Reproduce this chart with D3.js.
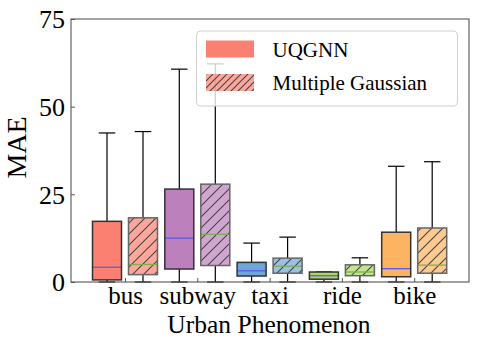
<!DOCTYPE html>
<html><head><meta charset="utf-8"><script src="https://cdn.jsdelivr.net/npm/d3@7"></script></head>
<body style="margin:0">
<svg id="chart" width="478" height="348" style="display:block; font-family:'Liberation Serif'"></svg>
<script>
// ---- data ----
const categories = ["bus", "subway", "taxi", "ride", "bike"];
const seriesNames = ["UQGNN", "Multiple Gaussian"];
const yTicks = [0, 25, 50, 75];

const uqgnnLow  = [0, 0, 0, 0, 0];
const uqgnnQ1   = [0.6, 3.7, 1.7, 0.8, 1.5];
const uqgnnMed  = [4.2, 12.5, 3.2, 1.8, 3.8];
const uqgnnQ3   = [17.3, 26.5, 5.6, 2.85, 14.2];
const uqgnnHigh = [42.5, 60.7, 11.1, 2.85, 33.0];

const mgLow  = [0, 0, 0, 0, 0];
const mgQ1   = [2.1, 4.7, 2.5, 1.8, 2.5];
const mgMed  = [5.0, 13.6, 4.5, 2.85, 4.8];
const mgQ3   = [18.3, 27.9, 6.8, 4.9, 15.4];
const mgHigh = [42.9, 62.2, 12.8, 6.9, 34.3];

const colors = ["#fb8072", "#bc80bd", "#6fa6d8", "#aad862", "#fdb462"];

// ---- layout ----
const svg = d3.select("#chart");
const L = 71, R = 469, T = 19, B = 282;
const y = d3.scaleLinear().domain([0, 75]).range([B, T]);
const x = d3.scaleLinear().domain([0, 4]).range([125, 414.2]);
const off = 18, bw = 29;

function txt(sel) {
  return sel.style("font-family", "'Liberation Serif'").attr("font-family", "Liberation Serif");
}

const defs = svg.append("defs");
function hatch(id, size, color) {
  const p = defs.append("pattern").attr("id", id)
    .attr("patternUnits", "userSpaceOnUse").attr("width", size).attr("height", size);
  const g = p.append("g").attr("stroke", color).attr("stroke-width", 1.1);
  g.append("line").attr("x1", 0).attr("y1", size).attr("x2", size).attr("y2", 0);
  g.append("line").attr("x1", -1).attr("y1", 1).attr("x2", 1).attr("y2", -1);
  g.append("line").attr("x1", size - 1).attr("y1", size + 1).attr("x2", size + 1).attr("y2", size - 1);
}
hatch("h-box", 11, "#444");
hatch("h-leg", 7, "#444");

const series = [
  { name: seriesNames[0], low: uqgnnLow, q1: uqgnnQ1, med: uqgnnMed, q3: uqgnnQ3, high: uqgnnHigh, dx: -off, alpha: 1, edge: "#333", medColor: "#5a5af0", hatch: false },
  { name: seriesNames[1], low: mgLow, q1: mgQ1, med: mgMed, q3: mgQ3, high: mgHigh, dx: off, alpha: 0.7, edge: "#666", medColor: "#7cb04e", hatch: true }
];

const plot = svg.append("g");

series.forEach(s => {
  categories.forEach((c, i) => {
    const cx = x(i) + s.dx;
    const g = plot.append("g");
    const line = (x1, y1, x2, y2) => g.append("line").attr("x1", x1).attr("y1", y1).attr("x2", x2).attr("y2", y2)
      .attr("stroke", "#000").attr("stroke-width", 1.2);
    line(cx, y(s.q3[i]), cx, y(s.high[i]));
    line(cx, y(s.q1[i]), cx, y(s.low[i]));
    line(cx - bw / 4 - 1, y(s.high[i]), cx + bw / 4 + 1, y(s.high[i]));
    line(cx - bw / 4 - 1, y(s.low[i]), cx + bw / 4 + 1, y(s.low[i]));
    const bx = cx - bw / 2, by = y(s.q3[i]), bh = y(s.q1[i]) - y(s.q3[i]);
    g.append("rect").attr("x", bx).attr("width", bw).attr("y", by).attr("height", bh)
      .attr("fill", colors[i]).attr("fill-opacity", s.alpha);
    if (s.hatch) {
      g.append("rect").attr("x", bx).attr("width", bw).attr("y", by).attr("height", bh)
        .attr("fill", "url(#h-box)");
    }
    g.append("line").attr("x1", bx).attr("x2", bx + bw)
      .attr("y1", y(s.med[i])).attr("y2", y(s.med[i]))
      .attr("stroke", s.medColor).attr("stroke-width", 1.3);
    g.append("rect").attr("x", bx).attr("width", bw).attr("y", by).attr("height", bh)
      .attr("fill", "none").attr("stroke", s.edge).attr("stroke-width", 1.5);
  });
});

// ---- axes ----
const yAxis = d3.axisLeft(y).tickValues(yTicks).tickSizeInner(-4).tickSizeOuter(0).tickPadding(6);
const gy = svg.append("g").attr("transform", `translate(${L},0)`).call(yAxis);
gy.attr("font-family", "Liberation Serif").attr("font-size", 26);
gy.select(".domain").remove();
gy.selectAll(".tick line").attr("stroke", "#555");
txt(gy.selectAll(".tick text")).attr("font-size", 26).attr("fill", "#000").attr("dy", "0.34em");

const xAxis = d3.axisBottom(x).tickValues(d3.range(categories.length)).tickFormat(i => categories[i])
  .tickSizeInner(-4).tickSizeOuter(0).tickPadding(0);
const gx = svg.append("g").attr("transform", `translate(0,${B})`).call(xAxis);
gx.attr("font-family", "Liberation Serif").attr("font-size", 25);
gx.select(".domain").remove();
gx.selectAll(".tick line").attr("stroke", "#555");
txt(gx.selectAll(".tick text")).attr("font-size", 25).attr("fill", "#000").attr("dy", null).attr("y", 22);

// frame
svg.append("rect").attr("x", L).attr("y", T).attr("width", R - L).attr("height", B - T)
  .attr("fill", "none").attr("stroke", "#555").attr("stroke-width", 1.1);

// axis labels
txt(svg.append("text")).attr("x", (L + R) / 2 - 1).attr("y", 333)
  .attr("text-anchor", "middle").attr("font-size", 25.5).text("Urban Phenomenon");
txt(svg.append("text")).attr("transform", `translate(26,${(T + B) / 2 - 3}) rotate(-90)`)
  .attr("text-anchor", "middle").attr("font-size", 28).text("MAE");

// ---- legend ----
const lg = svg.append("g");
lg.append("rect").attr("x", 196.5).attr("y", 31).attr("width", 261).attr("height", 75)
  .attr("rx", 4).attr("fill", "#fff").attr("fill-opacity", 0.8)
  .attr("stroke", "#d0d0d0").attr("stroke-width", 1);
seriesNames.forEach((n, k) => {
  const yy = 40.5 + k * 33.5;
  lg.append("rect").attr("x", 206).attr("y", yy).attr("width", 48).attr("height", 17)
    .attr("fill", colors[0]).attr("fill-opacity", series[k].alpha);
  if (series[k].hatch) {
    lg.append("rect").attr("x", 206).attr("y", yy).attr("width", 48).attr("height", 17)
      .attr("fill", "url(#h-leg)");
  }
  txt(lg.append("text")).attr("x", 272.5).attr("y", yy + 16).attr("font-size", 21).text(n);
});
</script>
</body>
</html>
